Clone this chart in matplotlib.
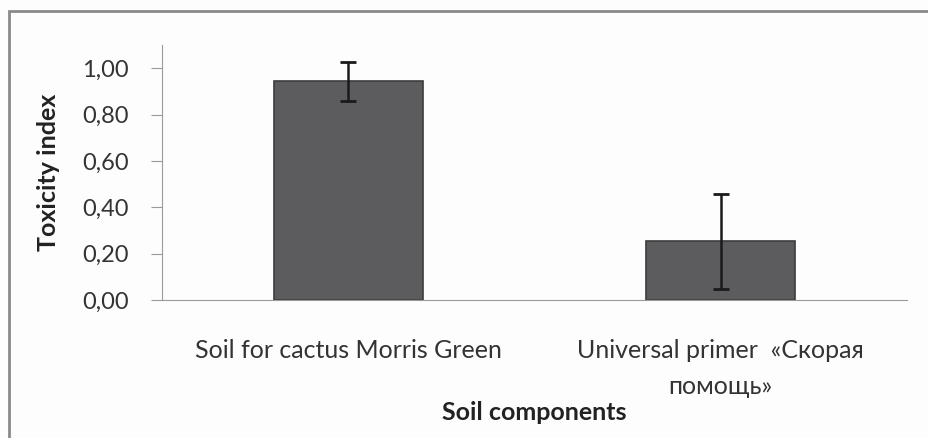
import matplotlib.pyplot as plt
from matplotlib.patches import Rectangle

# данные
categories = ["Soil for cactus Morris Green", "Universal primer  «Скорая\nпомощь»"]
values = [0.944, 0.254]
errors = [0.084, 0.205]
yticks = [0.0, 0.2, 0.4, 0.6, 0.8, 1.0]

plt.rcParams['font.family'] = ['Lato', 'DejaVu Sans']

fig = plt.figure(figsize=(9.29, 4.38), dpi=100)
fig.patch.set_facecolor('#fdfdfd')

# рамка области диаграммы
fig.patches.append(Rectangle((9 / 929, -0.1), 1.2, (438 - 11) / 438 + 0.1,
                             transform=fig.transFigure, fill=False,
                             edgecolor='#8a8a8a', linewidth=2))

ax = fig.add_axes([162 / 929, (438 - 300) / 438, (907 - 162) / 929, 255 / 438])
ax.set_facecolor('#fdfdfd')

x = range(len(categories))
ax.bar(x, values, width=0.40, color='#5c5c5f', edgecolor='#3c3c3e', linewidth=1.2,
       yerr=errors, capsize=6, error_kw=dict(ecolor='#1a1a1a', elinewidth=1.8, capthick=2))

ax.set_xlim(-0.5, 1.5)
ax.set_ylim(0, 1.1)
ax.set_yticks(yticks)
ax.set_yticklabels([f"{v:.2f}".replace('.', ',') for v in yticks], fontsize=17, color='#333333')
ax.set_xticks(list(x))
ax.set_xticklabels(categories, fontsize=18, color='#333333', linespacing=1.7)
ax.tick_params(axis='x', length=0, pad=28)
ax.tick_params(axis='y', length=8, color='#9a9a9a', pad=16)

for s in ['top', 'right']:
    ax.spines[s].set_visible(False)
ax.spines['left'].set_color('#9a9a9a')
ax.spines['bottom'].set_color('#9a9a9a')

ax.set_ylabel("Toxicity index", fontsize=18, fontweight='bold', color='#222222', labelpad=16)
ax.set_xlabel("Soil components", fontsize=18, fontweight='bold', color='#222222', labelpad=2)

fig.savefig("out.png", dpi=100, facecolor=fig.get_facecolor())
